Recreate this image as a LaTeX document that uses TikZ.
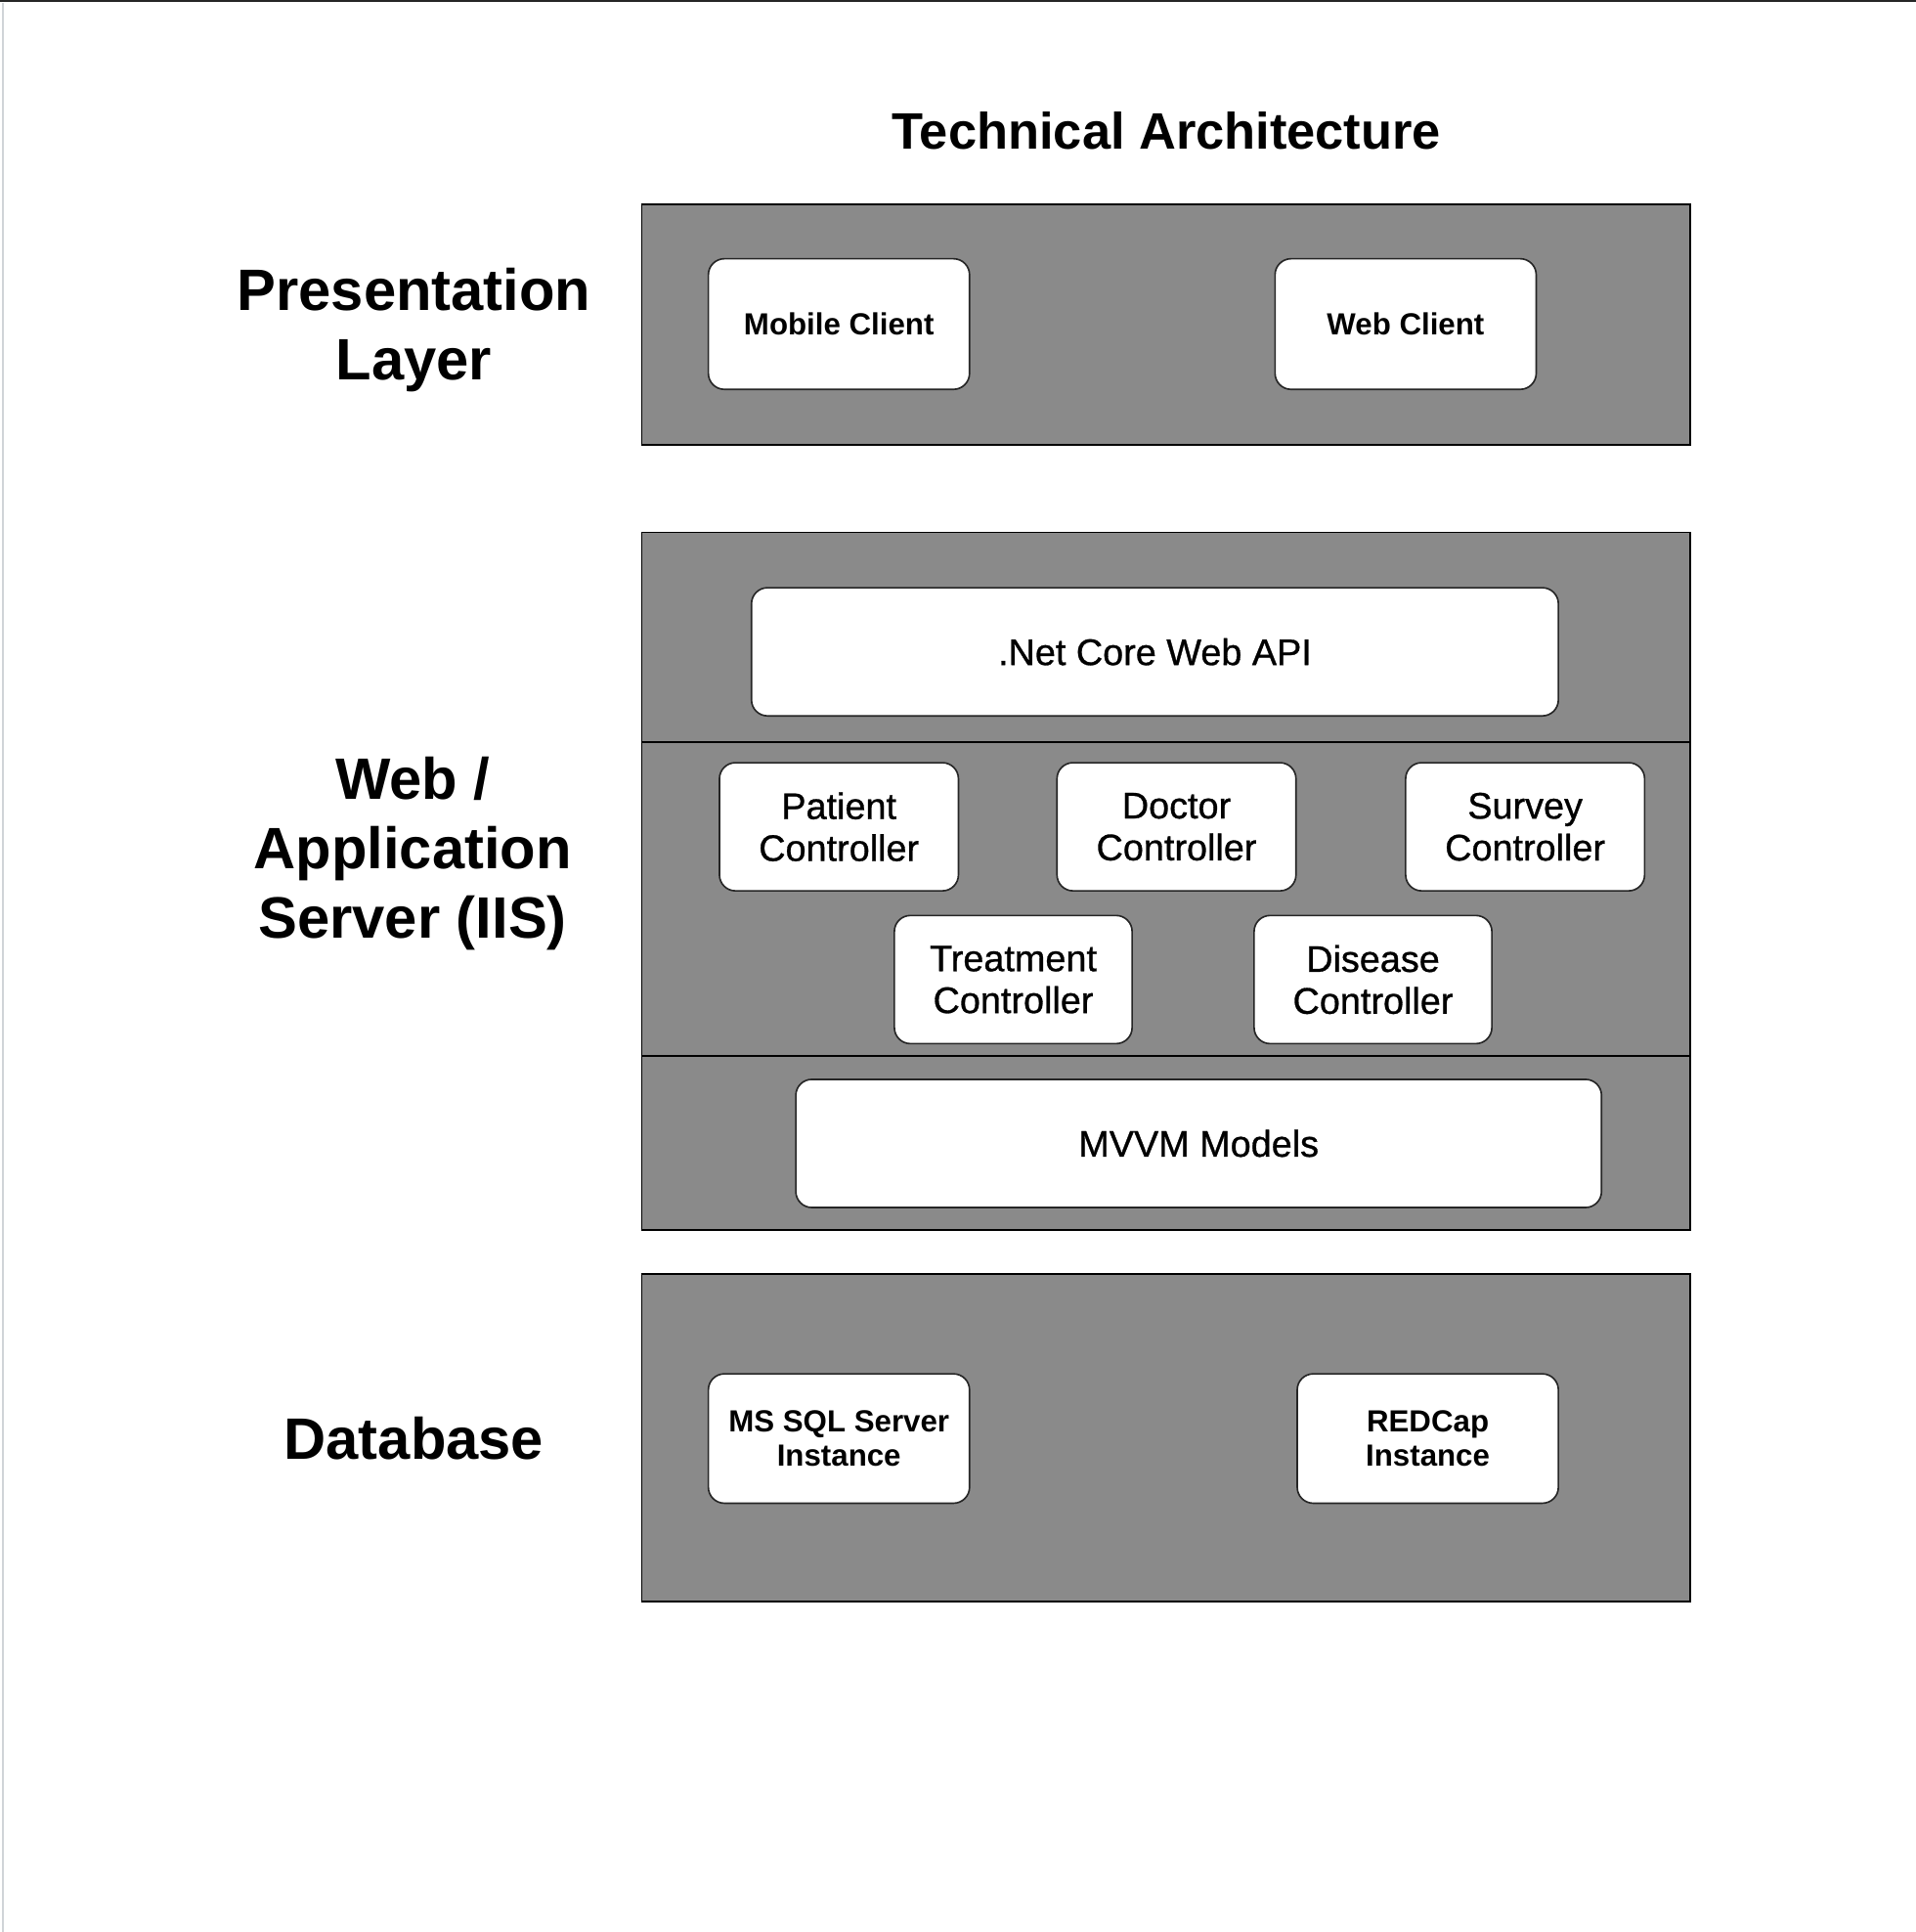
\documentclass[tikz,border=0pt]{standalone}
\usepackage{fontspec}
\setmainfont{Liberation Sans}
\newfontfamily\medfont[FakeBold=0.8]{Liberation Sans}
\definecolor{layergrey}{RGB}{138,138,138}
\definecolor{edgegrey}{RGB}{208,212,216}
\begin{document}
\begin{tikzpicture}[x=0.5pt,y=-0.5pt,
  layerbox/.style={draw=black, line width=0.7pt, fill=layergrey, rectangle, inner sep=0pt},
  compbox/.style={draw=black!85, line width=0.65pt, fill=white, rectangle, rounded corners=6.5pt, inner sep=0pt, align=center},
  smalltext/.style={font=\fontsize{12.4}{14}\selectfont\bfseries},
  midtext/.style={font=\medfont\fontsize{15}{17}\selectfont},
  layerlabel/.style={align=center, font=\fontsize{23.7}{28.2}\selectfont\bfseries},
  titletext/.style={font=\fontsize{20.8}{25}\selectfont\bfseries}
]
\useasboundingbox (0,0) rectangle (1555,1568);
\fill[white] (0,0) rectangle (1555,1568);
% screenshot frame
\coordinate (tl) at (0,0.8);
\coordinate (tr) at (1555,0.8);
\draw[line width=0.8pt, black!85] (tl) -- (tr);
\coordinate (lt) at (2.2,2);
\coordinate (lb) at (2.2,1568);
\draw[line width=0.8pt, edgegrey] (lt) -- (lb);

% title
\node[titletext] (title) at (947,106) {Technical Architecture};

% layer labels
\node[layerlabel] (lblP) at (336,268) {Presentation\\Layer};
\node[layerlabel] (lblW) at (335,693) {Web /\\Application\\Server (IIS)};
\node[layerlabel] (lblD) at (336,1167) {Database};

% presentation layer
\node[layerbox, minimum width=425.5pt, minimum height=97.5pt] (P) at (946.5,263.5) {};
\node[compbox, smalltext, minimum width=106pt, minimum height=53pt] (mobile) at (681,263) {Mobile Client};
\node[compbox, smalltext, minimum width=106pt, minimum height=53pt] (webc) at (1141,263) {Web Client};

% web / application server
\node[layerbox, minimum width=425.5pt, minimum height=283pt] (W) at (946.5,715) {};
\coordinate (d1) at (0,602);
\coordinate (d2) at (0,857);
\draw[line width=0.7pt, black] (W.west |- d1) -- (W.east |- d1);
\draw[line width=0.7pt, black] (W.west |- d2) -- (W.east |- d2);
\node[compbox, midtext, minimum width=327.5pt, minimum height=52pt] (api) at (937.5,529) {.Net Core Web API};
\node[compbox, midtext, minimum width=97pt, minimum height=52pt] (patient) at (681,671) {Patient\\Controller};
\node[compbox, midtext, minimum width=97pt, minimum height=52pt] (doctor) at (955,671) {Doctor\\Controller};
\node[compbox, midtext, minimum width=97pt, minimum height=52pt] (survey) at (1238,671) {Survey\\Controller};
\node[compbox, midtext, minimum width=96.5pt, minimum height=52pt] (treat) at (822.5,795) {Treatment\\Controller};
\node[compbox, midtext, minimum width=96.5pt, minimum height=52pt] (disease) at (1114.5,795) {Disease\\Controller};
\node[compbox, midtext, minimum width=327pt, minimum height=52pt] (mvvm) at (973,928) {MVVM Models};

% database
\node[layerbox, minimum width=425.5pt, minimum height=133pt] (D) at (946.5,1167) {};
\node[compbox, smalltext, minimum width=106pt, minimum height=52.5pt] (mssql) at (681,1167.5) {MS SQL Server\\Instance};
\node[compbox, smalltext, minimum width=106pt, minimum height=52.5pt] (redcap) at (1159,1167.5) {REDCap\\Instance};
\end{tikzpicture}
\end{document}
